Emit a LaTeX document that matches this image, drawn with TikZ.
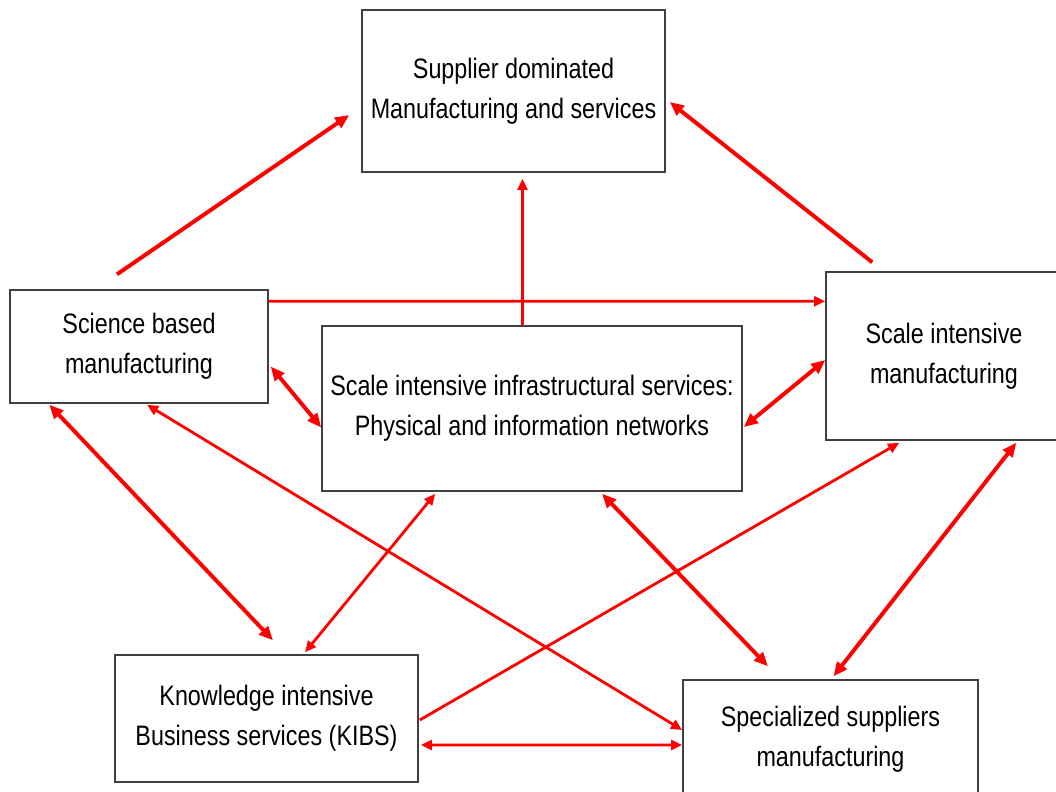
\documentclass[tikz,border=0pt]{standalone}
\usepackage{fontspec}
\setmainfont[FakeStretch=0.83]{Liberation Sans}
\usetikzlibrary{arrows.meta,calc}

\begin{document}
\begin{tikzpicture}[x=0.025cm,y=-0.025cm,
  box/.style={draw=black!75,line width=1pt,fill=white,align=center,inner sep=0pt,
    font=\fontsize{20}{28.3}\selectfont},
  thick link/.style={red,line width=2.8pt,-{Triangle[length=10pt,width=8.5pt]}},
  thin link/.style={red,line width=2pt,-{Triangle[length=8pt,width=7pt]}},
  both/.style={{Triangle[length=8pt,width=7pt]}-{Triangle[length=8pt,width=7pt]}},
  bothbig/.style={{Triangle[length=10pt,width=8.5pt]}-{Triangle[length=10pt,width=8.5pt]}}]
\useasboundingbox (0,0) rectangle (1056,791);

\node[box,minimum width=7.575cm,minimum height=4.05cm]  (sup)   at (513.5,91)  {Supplier dominated\\Manufacturing and services};
\node[box,minimum width=6.45cm,minimum height=2.825cm]  (sci)   at (139,346.5) {Science based\\manufacturing};
\node[box,minimum width=10.5cm,minimum height=4.125cm]  (infra) at (532,408.5) {Scale intensive infrastructural services:\\Physical and information networks};
\node[box,minimum width=5.9cm,minimum height=4.2cm]     (scale) at (944,356)   {Scale intensive\\manufacturing};
\node[box,minimum width=7.575cm,minimum height=3.175cm] (kibs)  at (266.5,718.5) {Knowledge intensive\\Business services (KIBS)};
\node[box,minimum width=7.375cm,minimum height=2.95cm]  (spec)  at (830.5,739) {Specialized suppliers\\manufacturing};

% towards the supplier dominated box
\draw[thick link] ($(sci.north)+(-22,-15)$)        -- ($(sup.west)+(-12,24)$);
\draw[thick link] ($(scale.north west)+(47,-9)$)   -- ($(sup.east)+(4,11)$);
\draw[thin link]  ($(infra.north)+(-9.5,0)$)       -- ($(sup.south)+(9,6)$);
\draw[thin link]  ($(sci.north east)+(0,12)$)      -- ($(scale.north west)+(0,30)$);

\draw[thick link,bothbig] ($(sci.east)+(2,20)$)          -- ($(infra.west)+(0,19)$);
\draw[thick link,bothbig] ($(infra.east)+(1,18.5)$)      -- ($(scale.west)+(0,4)$);
\draw[thick link,bothbig] ($(sci.south west)+(40,1)$)    -- ($(kibs.north)+(6.5,-14)$);
\draw[thin link,both]     ($(sci.south)+(8,1)$)          -- ($(spec.west)+(0,-9)$);
\draw[thin link,both]     ($(infra.south west)+(114,2)$) -- ($(kibs.north)+(38.5,-2)$);
\draw[thick link,bothbig] ($(infra.south)+(70,2)$)       -- ($(spec.north)+(-62.5,-13)$);
\draw[thin link]          ($(kibs.east)+(1,1.5)$)        -- ($(scale.south west)+(74,2)$);
\draw[thick link,bothbig] ($(scale.south west)+(191,2)$) -- ($(spec.north)+(3,-3)$);
\draw[thin link,both]     ($(kibs.east)+(2,26.5)$)       -- ($(spec.west)+(0,6)$);

\end{tikzpicture}
\end{document}
